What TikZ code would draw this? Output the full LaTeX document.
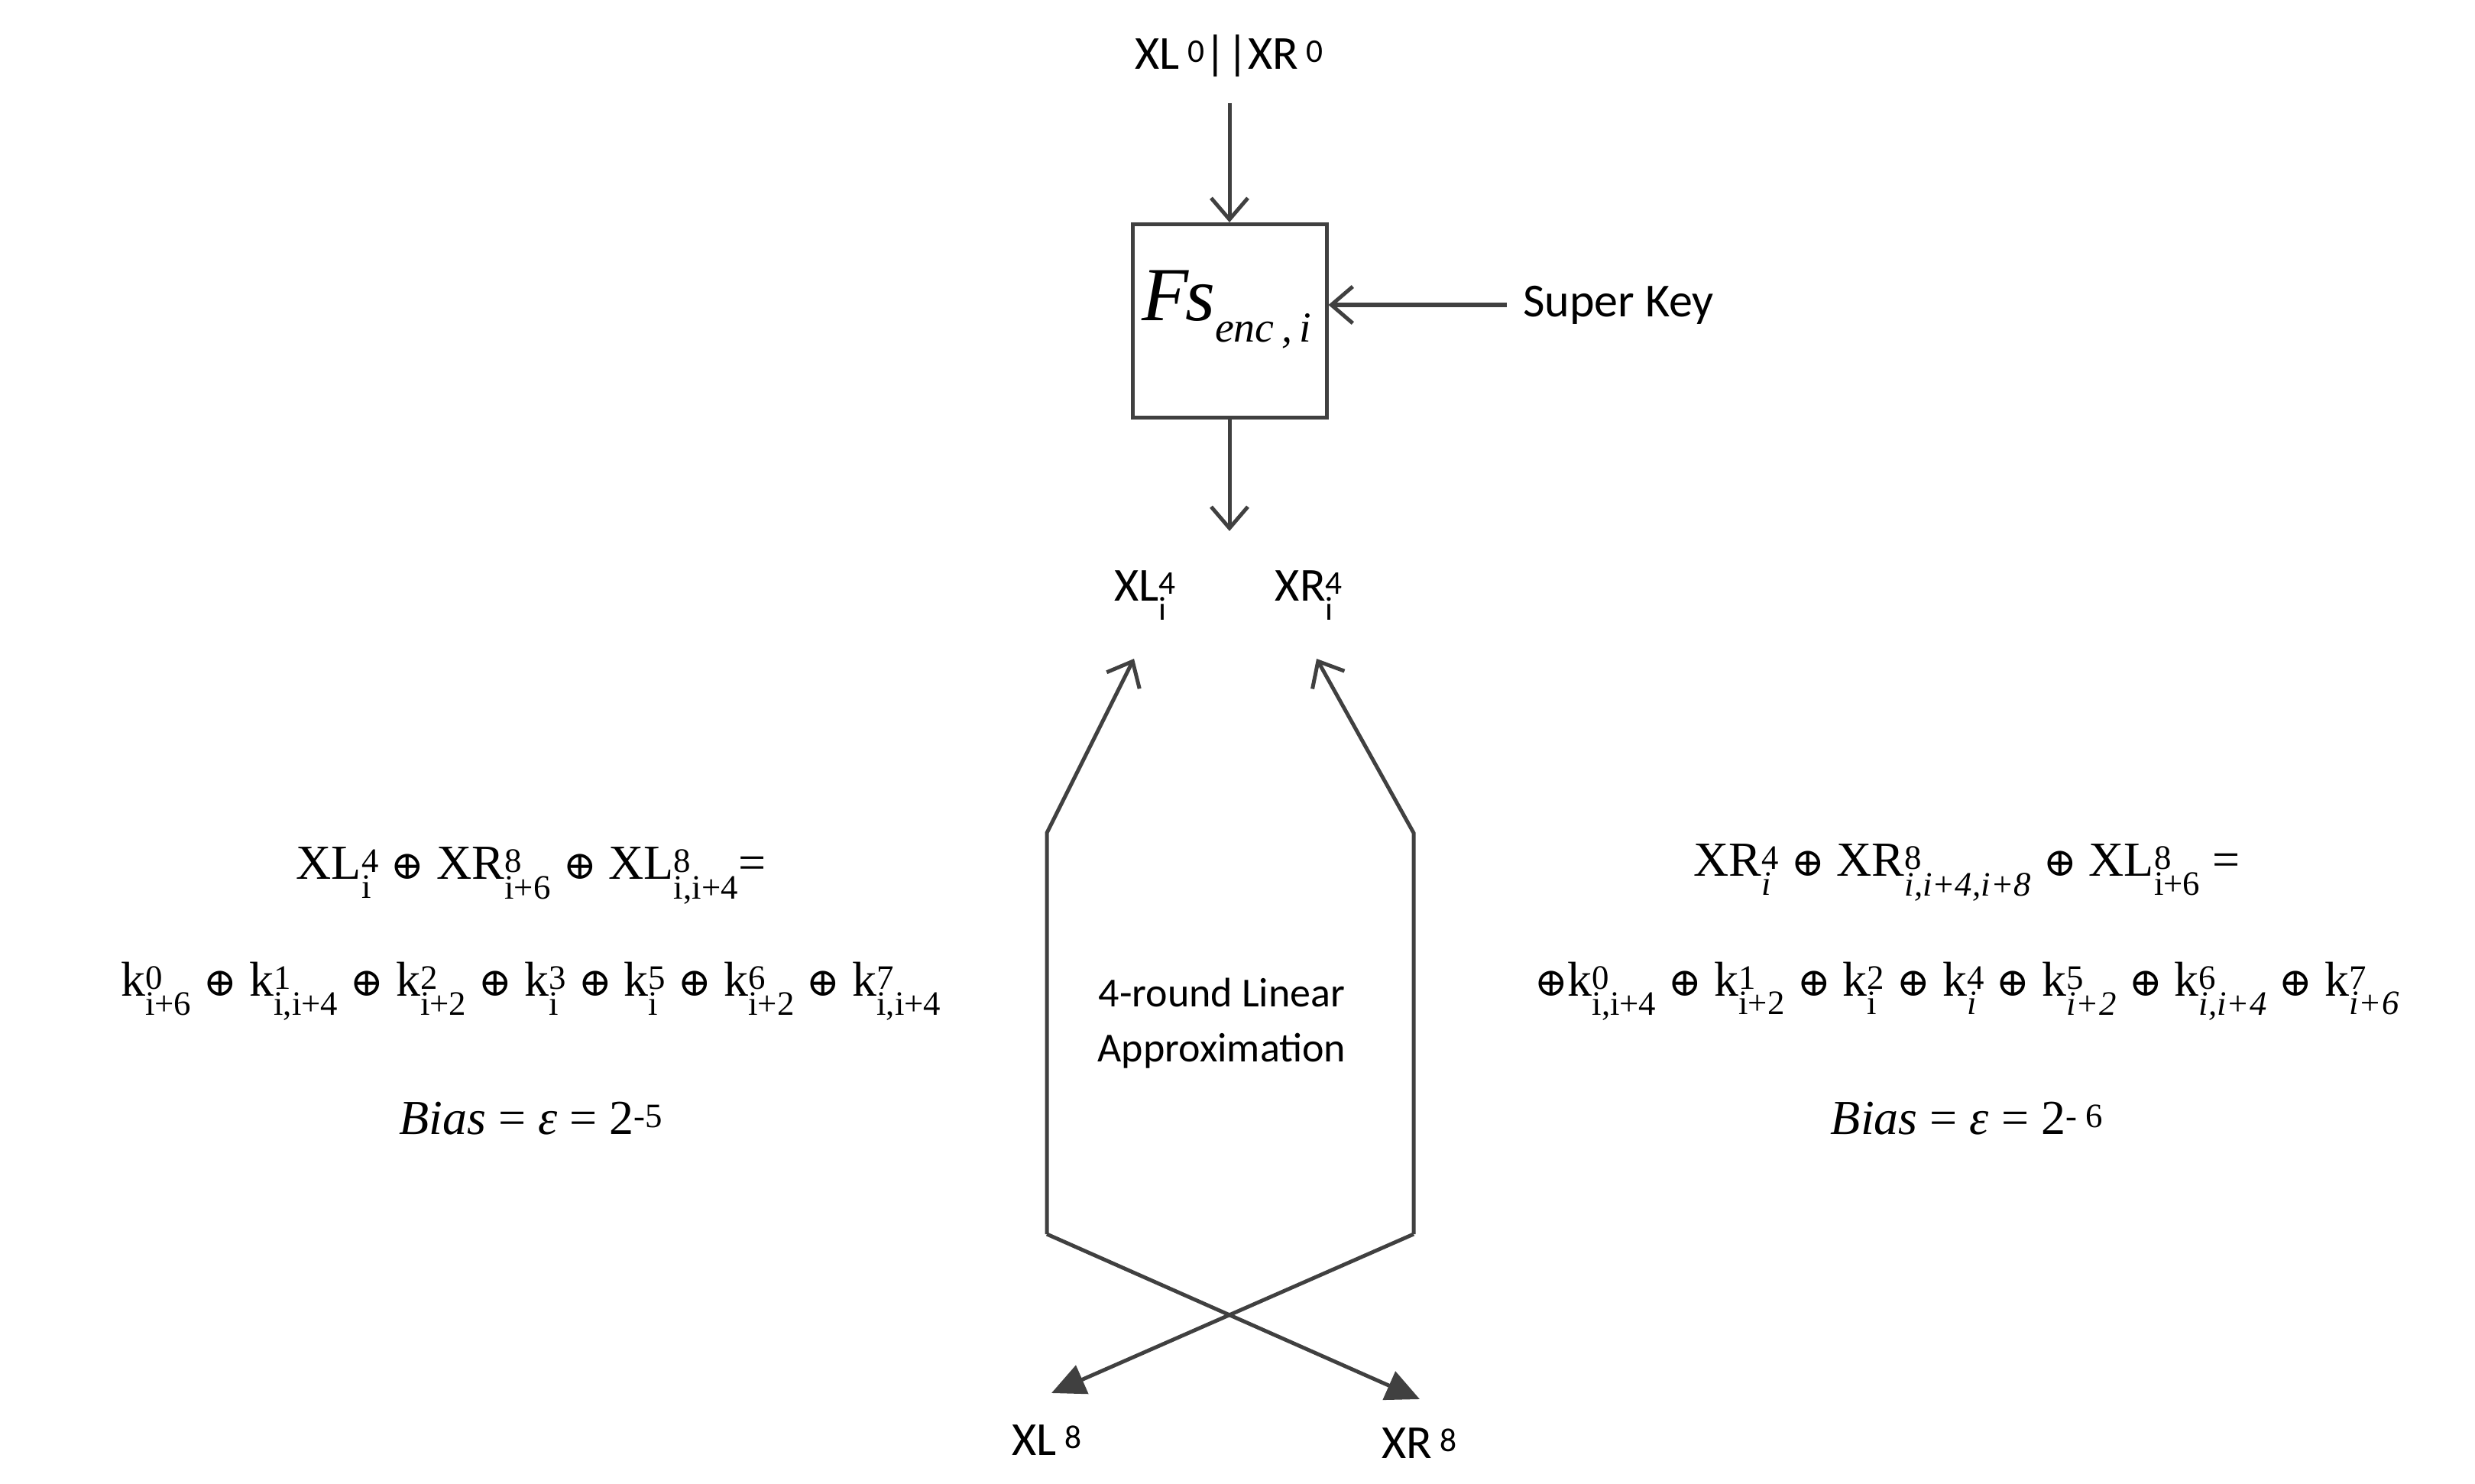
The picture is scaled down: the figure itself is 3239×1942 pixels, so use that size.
\documentclass[tikz,border=0pt]{standalone}
\usepackage{amsmath}
\usepackage{fontspec}
\setmainfont{Liberation Serif}
\newfontfamily\calf{Carlito}
\newfontfamily\djs{DejaVu Serif}
\usetikzlibrary{arrows.meta}
\newcommand\tn[3]{#1\ensuremath{^{\text{#2}}_{\text{#3}}}}
\newcommand\ti[3]{#1\ensuremath{^{\text{#2}}_{\textit{#3}}}}
\newcommand\xo{{\djs\fontsize{52}{60}\selectfont ⊕}}
\begin{document}
\begin{tikzpicture}[x=1pt,y=-1pt,
  ln/.style={draw=black!75,line width=5pt},
  op/.style={ln,-{Straight Barb[length=28pt,width=48pt,line width=5pt]}},
  fl/.style={ln,-{Triangle[length=44pt,width=40pt]}},
  sf/.style={font=\calf\fontsize{62}{74}\selectfont,inner sep=0},
  eq/.style={font=\fontsize{64}{76}\selectfont,inner sep=0}]
\useasboundingbox (0,0) rectangle (3239,1942);
\node[sf] (in) at (1609,73) {XL\,\textsuperscript{0}||XR\,\textsuperscript{0}};
\node[ln,draw,minimum width=254pt,minimum height=253pt,inner sep=0] (box) at (1609,420) {};
\node[font=\fontsize{100}{120}\selectfont\itshape,inner sep=0] (fs) at (1605,405) {F\hspace{-4pt}s\raisebox{-28pt}{\fontsize{56}{64}\selectfont enc\,,\,i}};
\coordinate (inA) at (1609,135);
\draw[op] (inA) -- (box.north);
\node[sf,anchor=west] (sk) at (1993,399) {Super Key};
\coordinate (skA) at (1972,399);
\draw[op] (skA) -- (box.east |- skA);
\coordinate (outB) at (1609,695);
\draw[op] (box.south) -- (outB);
\node[sf] (xl4) at (1499,779) {XL$^{\text{\calf 4}}_{\text{\calf i}}$};
\node[sf] (xr4) at (1713,779) {XR$^{\text{\calf 4}}_{\text{\calf i}}$};
\node[sf] (xl8) at (1370,1885) {XL\,\textsuperscript{8}};
\node[sf] (xr8) at (1858,1889) {XR\,\textsuperscript{8}};
\coordinate (a1) at (1484,862); \coordinate (a2) at (1370,1090);
\coordinate (a3) at (1370,1615); \coordinate (a4) at (1858,1831);
\coordinate (b1) at (1723,862); \coordinate (b2) at (1850,1090);
\coordinate (b3) at (1850,1615); \coordinate (b4) at (1376,1823);
\draw[op] (a3) -- (a2) -- (a1);
\draw[op] (b3) -- (b2) -- (b1);
\draw[fl] (a3) -- (a4);
\draw[fl] (b3) -- (b4);
\node[sf,align=center,font=\calf\fontsize{54}{72}\selectfont] (lab) at (1599,1339) {4-round Linear\\Approximation};
\node[eq] (l1) at (695,1146) {\tn{XL}{4}{i} \xo{} \tn{XR}{8}{i+6} \xo{} \tn{XL}{8}{i,i+4}=};
\node[eq] (l2) at (695,1297) {\tn{k}{0}{i+6} \xo{} \tn{k}{1}{i,i+4} \xo{} \tn{k}{2}{i+2} \xo{} \tn{k}{3}{i} \xo{} \tn{k}{5}{i} \xo{} \tn{k}{6}{i+2} \xo{} \tn{k}{7}{i,i+4}};
\node[eq] (l3) at (695,1464) {\textit{Bias} = \textit{ε} = 2\textsuperscript{-5}};
\node[eq] (r1) at (2574,1142) {\ti{XR}{4}{i} \xo{} \ti{XR}{8}{i,i+4,i+8} \xo{} \tn{XL}{8}{i+6} =};
\node[eq] (r2) at (2574,1297) {\xo\tn{k}{0}{i,i+4} \xo{} \tn{k}{1}{i+2} \xo{} \tn{k}{2}{i} \xo{} \ti{k}{4}{i} \xo{} \ti{k}{5}{i+2} \xo{} \ti{k}{6}{i,i+4} \xo{} \ti{k}{7}{i+6}};
\node[eq] (r3) at (2574,1464) {\textit{Bias} = \textit{ε} = 2\textsuperscript{- 6}};
\end{tikzpicture}
\end{document}
